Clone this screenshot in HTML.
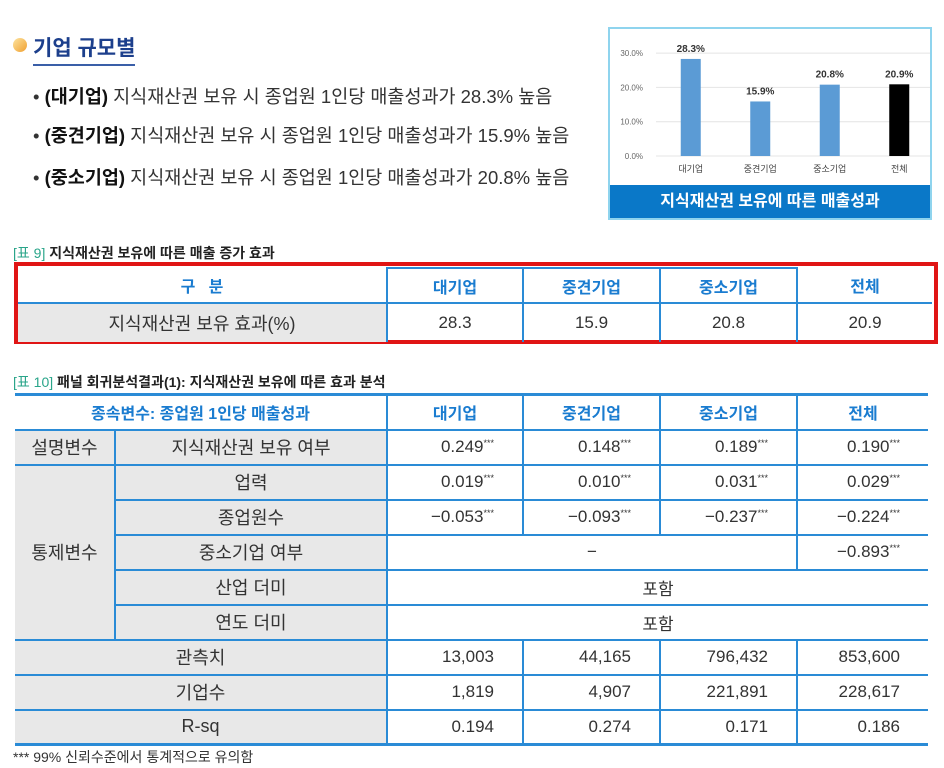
<!DOCTYPE html>
<html><head><meta charset="utf-8">
<style>
*{margin:0;padding:0;box-sizing:border-box}
body{width:944px;height:768px;background:#fff;position:relative;overflow:hidden;font-family:"Liberation Sans","Noto Sans CJK KR",sans-serif;color:#222}
.abs{position:absolute}
table{border-collapse:collapse;table-layout:fixed;position:absolute}
td{border:2px solid #2a8bd6;font-size:17px;text-align:center;height:35px;padding:0;white-space:nowrap;color:#333}
.g{background:#e8e8e8;font-size:18px}
.h{color:#1a7cd0;font-weight:bold;font-size:16px}
.r{text-align:right;padding-right:28px}
sup{font-size:9px;vertical-align:6px}
.bul{font-size:18.5px;color:#333;left:33px}
.bul b{color:#111}
</style></head><body>
<div class="abs" style="left:13px;top:38px;width:14px;height:14px;border-radius:50%;background:linear-gradient(135deg,#fde4a0,#f0a030)"></div>
<div class="abs" style="left:33px;top:32px;font-size:21px;font-weight:bold;color:#1c3f8c;border-bottom:2px solid #3a5fa8;padding-bottom:2px">기업 규모별</div>
<div class="abs bul" style="top:83px">• <b>(대기업)</b> 지식재산권 보유 시 종업원 1인당 매출성과가 28.3% 높음</div>
<div class="abs bul" style="top:122px">• <b>(중견기업)</b> 지식재산권 보유 시 종업원 1인당 매출성과가 15.9% 높음</div>
<div class="abs bul" style="top:164px">• <b>(중소기업)</b> 지식재산권 보유 시 종업원 1인당 매출성과가 20.8% 높음</div>

<div class="abs" style="left:608px;top:27px;width:324px;height:193px;border:2px solid #8fd4ee;background:#fff">
<svg id="chart" width="320" height="158" style="position:absolute;left:0;top:0"></svg>
<div class="abs" style="left:0;top:156px;width:320px;height:33px;background:#0a78c8;color:#fff;font-weight:bold;font-size:16px;text-align:center;line-height:33px">지식재산권 보유에 따른 매출성과</div>
</div>

<div class="abs" style="left:13px;top:243px;font-size:14px;font-weight:bold"><span style="color:#2aa58a;font-weight:normal">[표 9]</span> 지식재산권 보유에 따른 매출 증가 효과</div>
<div class="abs" style="left:14px;top:262px;width:924px;height:82px;border:4px solid #e01515"></div>
<table style="left:18px;top:267px;width:914px">
<colgroup><col style="width:369px"><col style="width:136px"><col style="width:137px"><col style="width:137px"><col style="width:135px"></colgroup>
<tr style="height:32px"><td class="h" style="border-left:none;border-top:none">구&nbsp;&nbsp;&nbsp;분</td><td class="h">대기업</td><td class="h">중견기업</td><td class="h">중소기업</td><td class="h" style="border-right:none;border-top:none">전체</td></tr>
<tr style="height:39px"><td class="g" style="border-left:none;border-bottom:none">지식재산권 보유 효과(%)</td><td style="border-bottom:none">28.3</td><td style="border-bottom:none">15.9</td><td style="border-bottom:none">20.8</td><td style="border-right:none;border-bottom:none">20.9</td></tr>
</table>

<div class="abs" style="left:13px;top:372px;font-size:14px;font-weight:bold"><span style="color:#2aa58a;font-weight:normal">[표 10]</span> 패널 회귀분석결과(1): 지식재산권 보유에 따른 효과 분석</div>
<table style="left:15px;top:393px;width:913px;border-top:3px solid #2a8bd6;border-bottom:3px solid #2a8bd6">
<colgroup><col style="width:100px"><col style="width:272px"><col style="width:136px"><col style="width:137px"><col style="width:137px"><col style="width:131px"></colgroup>
<tr style="height:34px"><td class="h" colspan="2" style="border-left:none">종속변수: 종업원 1인당 매출성과</td><td class="h">대기업</td><td class="h">중견기업</td><td class="h">중소기업</td><td class="h" style="border-right:none">전체</td></tr>
<tr><td class="g" style="border-left:none">설명변수</td><td class="g">지식재산권 보유 여부</td><td class="r">0.249<sup>***</sup></td><td class="r">0.148<sup>***</sup></td><td class="r">0.189<sup>***</sup></td><td class="r" style="border-right:none">0.190<sup>***</sup></td></tr>
<tr><td class="g" rowspan="5" style="border-left:none">통제변수</td><td class="g">업력</td><td class="r">0.019<sup>***</sup></td><td class="r">0.010<sup>***</sup></td><td class="r">0.031<sup>***</sup></td><td class="r" style="border-right:none">0.029<sup>***</sup></td></tr>
<tr><td class="g">종업원수</td><td class="r">−0.053<sup>***</sup></td><td class="r">−0.093<sup>***</sup></td><td class="r">−0.237<sup>***</sup></td><td class="r" style="border-right:none">−0.224<sup>***</sup></td></tr>
<tr><td class="g">중소기업 여부</td><td colspan="3">−</td><td class="r" style="border-right:none">−0.893<sup>***</sup></td></tr>
<tr><td class="g">산업 더미</td><td colspan="4" style="border-right:none">포함</td></tr>
<tr><td class="g">연도 더미</td><td colspan="4" style="border-right:none">포함</td></tr>
<tr><td class="g" colspan="2" style="border-left:none">관측치</td><td class="r">13,003</td><td class="r">44,165</td><td class="r">796,432</td><td class="r" style="border-right:none">853,600</td></tr>
<tr><td class="g" colspan="2" style="border-left:none">기업수</td><td class="r">1,819</td><td class="r">4,907</td><td class="r">221,891</td><td class="r" style="border-right:none">228,617</td></tr>
<tr><td class="g" colspan="2" style="border-left:none">R-sq</td><td class="r">0.194</td><td class="r">0.274</td><td class="r">0.171</td><td class="r" style="border-right:none">0.186</td></tr>
</table>
<div class="abs" style="left:13px;top:747px;font-size:14px;color:#333">*** 99% 신뢰수준에서 통계적으로 유의함</div>

<script>
const categories=["대기업","중견기업","중소기업","전체"];
const values=[28.3,15.9,20.8,20.9];
const valueLabels=["28.3%","15.9%","20.8%","20.9%"];
const tickValues=[0,10,20,30];
const tickLabels=["0.0%","10.0%","20.0%","30.0%"];
const svg=document.getElementById('chart');
const NS='http://www.w3.org/2000/svg';
const y0=127,yPer=3.43,x0=46,step=69.5,bw=20;
const y=v=>y0-v*yPer;
const xc=i=>x0+step*(i+0.5);
function mk(t,a,txt){const e=document.createElementNS(NS,t);for(const k in a)e.setAttribute(k,a[k]);if(txt!=null)e.textContent=txt;svg.appendChild(e);return e;}
tickValues.forEach((t,i)=>{
 const l=mk('line',{x1:x0,x2:320,y1:y(t),y2:y(t),stroke:'#e4e4e4','stroke-width':1});
 
 
 const tx=mk('text',{x:33,y:y(t)+3,'text-anchor':'end','font-size':8,fill:'#666'},tickLabels[i]);
 
 
});
categories.forEach((c,i)=>{
 const b=mk('rect',{x:xc(i)-bw/2,y:y(values[i]),width:bw,height:values[i]*yPer,fill:i==3?'#000':'#5b9bd5'});
 
 
 const v=mk('text',{x:xc(i),y:y(values[i])-7,'text-anchor':'middle','font-size':10,'font-weight':'bold',fill:'#333'},valueLabels[i]);
 
 
 const cl=mk('text',{x:xc(i),y:y0+16,'text-anchor':'middle','font-size':9,fill:'#444'},c);
 
 
});
</script>
</body></html>
